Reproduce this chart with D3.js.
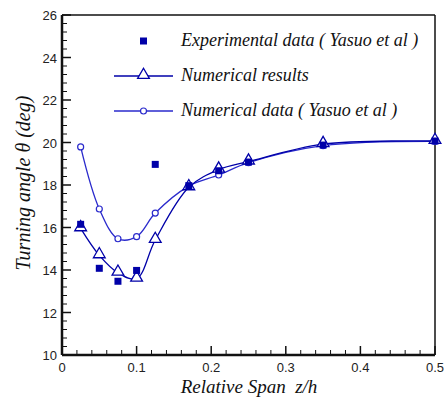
<!DOCTYPE html>
<html>
<head>
<meta charset="utf-8">
<script src="https://cdn.jsdelivr.net/npm/d3@7"></script>
<style>
  body { margin: 0; background: #fff; }
  svg { display: block; }
  .serif { font-family: 'Liberation Serif', 'DejaVu Serif', serif; font-style: italic; white-space: pre; }
  .sans { font-family: 'Liberation Sans', 'DejaVu Sans', sans-serif; }
</style>
</head>
<body>
<svg id="chart" width="444" height="400"></svg>
<script>
// span positions z/h
const spanX = [0.025, 0.05, 0.075, 0.1, 0.125, 0.17, 0.21, 0.25, 0.35, 0.5];
const expData = [16.15, 14.08, 13.47, 13.98, 18.97, 17.97, 18.67, 19.08, 19.88, 20.07];
const numResults = [15.96, 14.69, 13.87, 13.59, 15.41, 17.89, 18.72, 19.1, 19.92, 20.07];
const numYasuo = [19.79, 16.87, 15.47, 15.57, 16.68, 17.95, 18.47, 19.05, 19.85, 20.05];

const xTicks = [0, 0.1, 0.2, 0.3, 0.4, 0.5];
const yTicks = [10, 12, 14, 16, 18, 20, 22, 24, 26];
const legendLabels = ["Experimental data ( Yasuo et al )", "Numerical results", "Numerical data ( Yasuo et al )"];

const blue = "#0000a8";
const lineBlue = "#2a2acc";

const margin = { top: 15, right: 9, bottom: 45, left: 62 };
const width = 444 - margin.left - margin.right;
const height = 400 - margin.top - margin.bottom;

const svg = d3.select("#chart");
const g = svg.append("g").attr("transform", `translate(${margin.left},${margin.top})`);

const x = d3.scaleLinear().domain([0, 0.5]).range([0, width]);
const y = d3.scaleLinear().domain([10, 26]).range([height, 0]);

// minor ticks (inward)
const xMinor = d3.range(0, 0.5001, 0.02).filter(v => Math.abs(v * 10 - Math.round(v * 10)) > 1e-6);
const yMinor = d3.range(10, 26.001, 0.4).filter(v => Math.abs(v / 2 - Math.round(v / 2)) > 1e-6);

g.selectAll(".xminor").data(xMinor).enter().append("line")
  .attr("x1", d => x(d)).attr("x2", d => x(d))
  .attr("y1", height).attr("y2", height - 5)
  .attr("stroke", "#111").attr("stroke-width", 1);
g.selectAll(".xmajor").data(xTicks).enter().append("line")
  .attr("x1", d => x(d)).attr("x2", d => x(d))
  .attr("y1", height).attr("y2", height - 9)
  .attr("stroke", "#111").attr("stroke-width", 1.5);
g.selectAll(".yminor").data(yMinor).enter().append("line")
  .attr("x1", 0).attr("x2", 5)
  .attr("y1", d => y(d)).attr("y2", d => y(d))
  .attr("stroke", "#111").attr("stroke-width", 1);
g.selectAll(".ymajor").data(yTicks).enter().append("line")
  .attr("x1", 0).attr("x2", 9)
  .attr("y1", d => y(d)).attr("y2", d => y(d))
  .attr("stroke", "#111").attr("stroke-width", 1.5);

// frame
g.append("line").attr("x1", 0).attr("x2", width).attr("y1", 0).attr("y2", 0)
  .attr("stroke", "#111").attr("stroke-width", 1.5);
g.append("line").attr("x1", width).attr("x2", width).attr("y1", 0).attr("y2", height)
  .attr("stroke", "#111").attr("stroke-width", 1.5);
g.append("line").attr("x1", 0).attr("x2", width).attr("y1", height).attr("y2", height)
  .attr("stroke", "#111").attr("stroke-width", 2.5);
g.append("line").attr("x1", 0).attr("x2", 0).attr("y1", 0).attr("y2", height)
  .attr("stroke", "#111").attr("stroke-width", 2.5);

// tick labels
g.selectAll(".xlab").data(xTicks).enter().append("text")
  .attr("class", "sans")
  .attr("x", d => x(d)).attr("y", height + 17)
  .attr("text-anchor", "middle")
  .style("font-size", "13px").attr("fill", "#222")
  .text(d => d === 0 ? "0" : d3.format(".1f")(d));
g.selectAll(".ylab").data(yTicks).enter().append("text")
  .attr("class", "sans")
  .attr("x", -5).attr("y", d => y(d) + 5)
  .attr("text-anchor", "end")
  .style("font-size", "13px").attr("fill", "#222")
  .text(d => d);

// axis titles
svg.append("text").attr("class", "serif")
  .attr("x", 249).attr("y", 393)
  .attr("text-anchor", "middle")
  .style("font-size", "19px").attr("fill", "#111")
  .text("Relative Span  z/h");
svg.append("text").attr("class", "serif")
  .attr("transform", "translate(30,183) rotate(-90)")
  .attr("text-anchor", "middle")
  .style("font-size", "20px").attr("fill", "#111")
  .text("Turning angle \u03B8 (deg)");

const line = d3.line()
  .x((d, i) => x(spanX[i]))
  .y(d => y(d))
  .curve(d3.curveCatmullRom.alpha(0.5));

// numerical data (Yasuo) - circles
g.append("path").datum(numYasuo)
  .attr("fill", "none").attr("stroke", lineBlue).attr("stroke-width", 1.3)
  .attr("d", line);
g.selectAll(".circ").data(numYasuo).enter().append("circle")
  .attr("cx", (d, i) => x(spanX[i])).attr("cy", d => y(d))
  .attr("r", 3).attr("fill", "#fff").attr("stroke", lineBlue).attr("stroke-width", 1.2);

// numerical results - triangles
g.append("path").datum(numResults)
  .attr("fill", "none").attr("stroke", blue).attr("stroke-width", 1.3)
  .attr("d", line);
const tri = d3.symbol().type(d3.symbolTriangle).size(60);
g.selectAll(".tri").data(numResults).enter().append("path")
  .attr("d", tri)
  .attr("transform", (d, i) => `translate(${x(spanX[i])},${y(d) - 1})`)
  .attr("fill", "#fff").attr("stroke", blue).attr("stroke-width", 1.3);

// experimental squares
g.selectAll(".sq").data(expData).enter().append("rect")
  .attr("x", (d, i) => x(spanX[i]) - 3.5).attr("y", d => y(d) - 3.5)
  .attr("width", 7).attr("height", 7).attr("fill", blue);

// legend
const legend = svg.append("g");
const legendY = [41, 76, 111];
legend.append("rect").attr("x", 140).attr("y", legendY[0] - 3.5)
  .attr("width", 7).attr("height", 7).attr("fill", blue);
legend.append("line").attr("x1", 114).attr("x2", 173)
  .attr("y1", legendY[1]).attr("y2", legendY[1])
  .attr("stroke", blue).attr("stroke-width", 1.3);
legend.append("path").attr("d", tri)
  .attr("transform", `translate(143.5,${legendY[1] - 1})`)
  .attr("fill", "#fff").attr("stroke", blue).attr("stroke-width", 1.3);
legend.append("line").attr("x1", 114).attr("x2", 173)
  .attr("y1", legendY[2]).attr("y2", legendY[2])
  .attr("stroke", lineBlue).attr("stroke-width", 1.3);
legend.append("circle").attr("cx", 143.5).attr("cy", legendY[2])
  .attr("r", 3).attr("fill", "#fff").attr("stroke", lineBlue).attr("stroke-width", 1.2);
legend.selectAll(".lt").data(legendLabels).enter().append("text")
  .attr("class", "serif")
  .attr("x", 181).attr("y", (d, i) => legendY[i] + 5)
  .style("font-size", "18px").attr("fill", "#111")
  .text(d => d);
</script>
</body>
</html>
